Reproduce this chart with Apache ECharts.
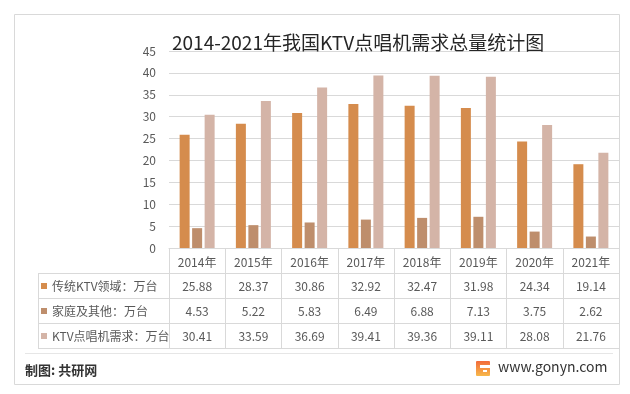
<!DOCTYPE html>
<html><head><meta charset="utf-8">
<script src="https://cdn.jsdelivr.net/npm/echarts@6/dist/echarts.min.js"></script>
<style>html,body{margin:0;padding:0;background:#fff}#c{width:630px;height:394px}</style>
</head><body><div id="c"></div>
<script>
const years = ['2014年','2015年','2016年','2017年','2018年','2019年','2020年','2021年'];
const seriesNames = ['传统KTV领域：万台','家庭及其他：万台','KTV点唱机需求：万台'];
const traditional = [25.88,28.37,30.86,32.92,32.47,31.98,24.34,19.14];
const household = [4.53,5.22,5.83,6.49,6.88,7.13,3.75,2.62];
const total = [30.41,33.59,36.69,39.41,39.36,39.11,28.08,21.76];
const yTicks = {min:0, max:45, interval:5};
const colors = ['#D58C4D','#BE8E6C','#D4B4A7'];
const dataRows = [traditional, household, total];

const FONT = '"Noto Sans CJK SC", "Noto Sans", sans-serif';
const gridLine = '#D9D9D9';
const txt = '#595959';
const GL = 169, GR = 11, ZERO = 248, ROW = 25;

const chart = echarts.init(document.getElementById('c'), null, {renderer:'canvas'});

const xAxes = [{
  type:'category', data:years, position:'bottom', offset:0, boundaryGap:true,
  axisLine:{show:true, lineStyle:{color:gridLine}},
  axisTick:{show:true, interval:0, length:ROW*4, lineStyle:{color:gridLine}},
  axisLabel:{interval:0, margin:7, color:txt, fontSize:12, lineHeight:14, fontFamily:FONT}
}];
dataRows.forEach((row, r) => {
  xAxes.push({
    type:'category', data:years, position:'bottom', offset:ROW*(r+1), boundaryGap:true,
    axisLine:{show:true, lineStyle:{color:gridLine}},
    axisTick:{show:false},
    axisLabel:{interval:0, margin:6, color:txt, fontSize:12, lineHeight:14, fontFamily:FONT,
      formatter:(v, i) => row[i].toFixed(2)}
  });
});
xAxes.push({
  type:'category', data:years, position:'bottom', offset:ROW*4, boundaryGap:true,
  axisLine:{show:true, lineStyle:{color:gridLine}}, axisTick:{show:false}, axisLabel:{show:false}
});

const option = {
  animation:false,
  textStyle:{fontFamily:FONT},
  title:{text:'2014-2021年我国KTV点唱机需求总量统计图', left:167, top:28,
    textStyle:{fontSize:19, fontWeight:'normal', color:'#262626', fontFamily:FONT}},
  legend:{orient:'vertical', left:41, top:279, padding:0, itemGap:11, itemWidth:6, itemHeight:6,
    icon:'rect', selectedMode:false, data:seriesNames,
    textStyle:{fontSize:12, lineHeight:14, color:txt, fontFamily:FONT}},
  grid:{left:GL, right:GR, top:51, bottom:394-ZERO, containLabel:false},
  xAxis:xAxes,
  yAxis:{type:'value', min:yTicks.min, max:yTicks.max, interval:yTicks.interval,
    axisLine:{show:false}, axisTick:{show:false},
    axisLabel:{margin:13, color:txt, fontSize:12, fontFamily:FONT},
    splitLine:{lineStyle:{color:gridLine}}},
  series:dataRows.map((row, r) => ({
    name:seriesNames[r], type:'bar', xAxisIndex:0, data:row,
    barWidth:10, barGap:'25%', itemStyle:{color:colors[r]}
  })),
  graphic:[
    {type:'rect', shape:{x:14.5, y:14.5, width:605, height:370}, style:{fill:'none', stroke:gridLine, lineWidth:1}, silent:true},
    {type:'line', shape:{x1:38.5, y1:273.5, x2:38.5, y2:348.5}, style:{stroke:gridLine}},
    {type:'line', shape:{x1:38, y1:273.5, x2:169, y2:273.5}, style:{stroke:gridLine}},
    {type:'line', shape:{x1:38, y1:298.5, x2:169, y2:298.5}, style:{stroke:gridLine}},
    {type:'line', shape:{x1:38, y1:323.5, x2:169, y2:323.5}, style:{stroke:gridLine}},
    {type:'line', shape:{x1:38, y1:348.5, x2:169, y2:348.5}, style:{stroke:gridLine}},
    {type:'line', shape:{x1:25, y1:353.5, x2:613, y2:353.5}, style:{stroke:'#E6E6E6'}},
    {type:'text', left:25, top:364, style:{text:'制图: 共研网', font:'bold 13px '+FONT, fill:'#333'}},
    {type:'text', left:498, top:360, style:{text:'www.gonyn.com', font:'14px '+FONT, fill:'#333'}},
    {type:'rect', shape:{x:476, y:361, width:14, height:15, r:1},
      style:{fill:new echarts.graphic.LinearGradient(0,0,0,1,[{offset:0,color:'#F26B3A'},{offset:1,color:'#F7B84B'}])}},
    {type:'rect', shape:{x:480, y:365, width:10, height:3}, style:{fill:'#fff'}},
    {type:'rect', shape:{x:483, y:370, width:4, height:2}, style:{fill:'#fff'}}
  ]
};
chart.setOption(option);
</script></body></html>
